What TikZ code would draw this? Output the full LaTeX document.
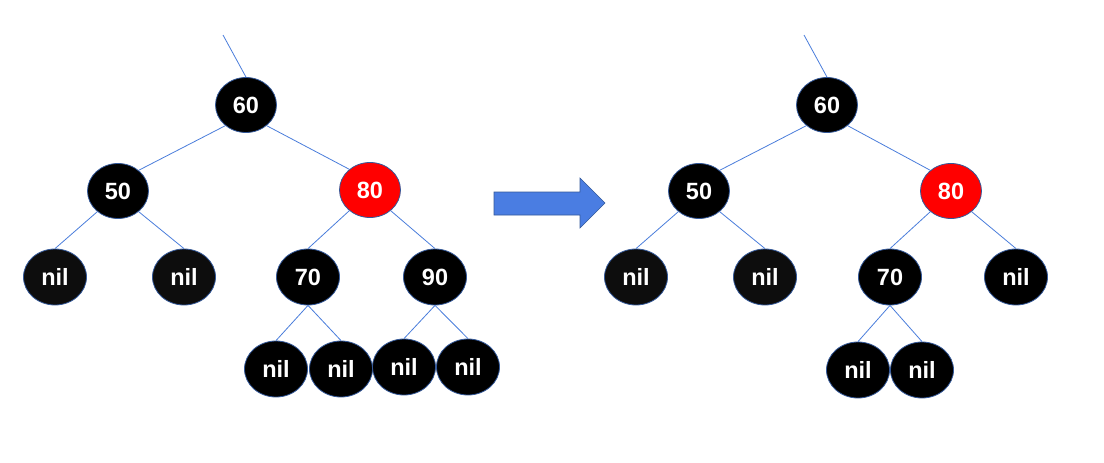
\documentclass[tikz,border=0pt]{standalone}
\usepackage{fontspec}
\setmainfont{Liberation Sans}
\usetikzlibrary{shapes.geometric}
\definecolor{edgeblue}{HTML}{4A7DDB}
\definecolor{rimblue}{HTML}{34599A}
\definecolor{nodered}{HTML}{FF0000}
\definecolor{darkgrey}{HTML}{0D0D0D}
\definecolor{arrowblue}{HTML}{4A7DE2}
\begin{document}
\begin{tikzpicture}[x=1pt,y=-1pt,
  rb/.style={ellipse, draw=rimblue, line width=0.8pt, fill=black, text=white,
    font=\fontsize{23.5}{23.5}\selectfont\bfseries, minimum width=61pt, minimum height=55pt, inner sep=0pt},
  rbw/.style={rb, minimum width=63pt, minimum height=56pt},
  redn/.style={rb, fill=nodered},
  greyn/.style={rbw, fill=darkgrey},
  link/.style={draw=edgeblue, line width=0.8pt}]
\useasboundingbox (0,0) rectangle (1104,463);
% left tree
\coordinate (Ltop) at (223,35);
\node[rb]    (L60) at (246,105) {60};
\node[rb]    (L50) at (118,191) {50};
\node[redn]  (L80) at (370,190) {80};
\node[greyn] (La)  at (55,277)  {nil};
\node[greyn] (Lb)  at (184,277) {nil};
\node[rbw]   (L70) at (308,277) {70};
\node[rbw]   (L90) at (435,277) {90};
\node[rbw]   (Lc)  at (276,369) {nil};
\node[rbw]   (Ld)  at (341,369) {nil};
\node[rbw]   (Le)  at (404,367) {nil};
\node[rbw]   (Lf)  at (468,367) {nil};
\draw[link] (Ltop) -- (L60.north);
\draw[link] (L60.225) -- (L50.45);
\draw[link] (L60.315) -- (L80.135);
\draw[link] (L50.225) -- (La.north);
\draw[link] (L50.315) -- (Lb.north);
\draw[link] (L80.225) -- (L70.north);
\draw[link] (L80.315) -- (L90.north);
\draw[link] (L70.south) -- (Lc.north);
\draw[link] (L70.south) -- (Ld.north);
\draw[link] (L90.south) -- (Le.north);
\draw[link] (L90.south) -- (Lf.north);
% arrow
\fill[arrowblue, draw=rimblue, line width=0.6pt]
  (494,192) -- (580,192) -- (580,178) -- (605,203) -- (580,228) -- (580,215) -- (494,215) -- cycle;
% right tree
\coordinate (Rtop) at (804,35);
\node[rb]    (R60) at (827,105) {60};
\node[rb]    (R50) at (699,191) {50};
\node[redn]  (R80) at (951,191) {80};
\node[greyn] (Ra)  at (636,277) {nil};
\node[greyn] (Rb)  at (765,277) {nil};
\node[rbw]   (R70) at (890,277) {70};
\node[rbw]   (Rn)  at (1016,277) {nil};
\node[rbw]   (Rc)  at (858,370) {nil};
\node[rbw]   (Rd)  at (922,370) {nil};
\draw[link] (Rtop) -- (R60.north);
\draw[link] (R60.225) -- (R50.45);
\draw[link] (R60.315) -- (R80.135);
\draw[link] (R50.225) -- (Ra.north);
\draw[link] (R50.315) -- (Rb.north);
\draw[link] (R80.225) -- (R70.north);
\draw[link] (R80.315) -- (Rn.north);
\draw[link] (R70.south) -- (Rc.north);
\draw[link] (R70.south) -- (Rd.north);
\end{tikzpicture}
\end{document}
